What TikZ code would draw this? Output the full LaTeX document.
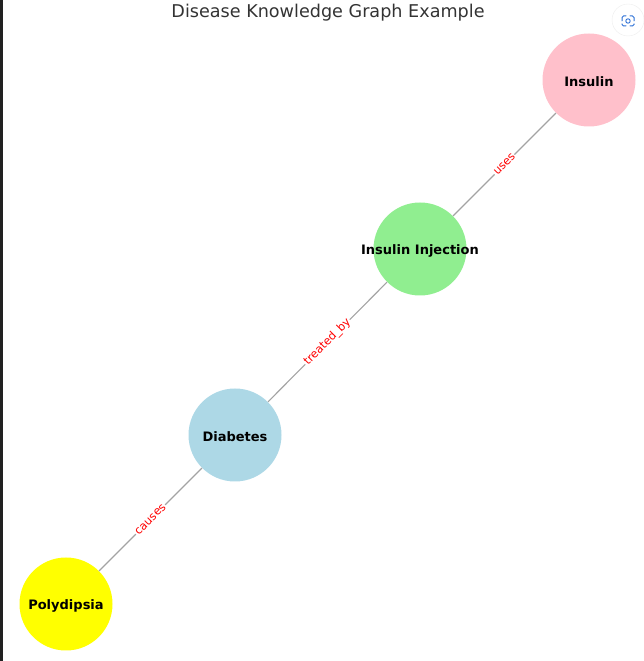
\documentclass[tikz,border=0pt]{standalone}
\usepackage{fontspec}
\setmainfont{DejaVu Sans}
\usetikzlibrary{positioning}
\definecolor{pinkish}{HTML}{FFC0CB}
\definecolor{lgreen}{HTML}{90EE90}
\definecolor{lblue}{HTML}{ADD8E6}
\definecolor{yel}{HTML}{FFFF00}
\definecolor{edgegray}{HTML}{A3A3A3}
\definecolor{iconblue}{HTML}{2B6FD6}
\tikzset{
  entity/.style={circle, minimum size=93pt, inner sep=0pt,
    label={[font=\fontsize{13}{15}\selectfont\bfseries, yshift=-1.5pt]center:#1}},
  rel/.style={draw=edgegray, line width=1.1pt},
  rellabel/.style={midway, sloped, fill=white, inner sep=1pt, text=red, font=\fontsize{11.3}{13}\selectfont}
}
\begin{document}
\begin{tikzpicture}[x=1pt,y=1pt]
\useasboundingbox (0,0) rectangle (644,661);
\fill[black!87] (0,0) rectangle (3,661);
\node (title) at (328,648) {\fontsize{17.6}{20}\selectfont\color{black!80}Disease Knowledge Graph Example};
% nodes
\node[entity=Insulin, fill=pinkish] (insulin) at (589,581) {};
\node[entity=Insulin Injection, fill=lgreen] (injection) at (420,412) {};
\node[entity=Diabetes, fill=lblue] (diabetes) at (235,226) {};
\node[entity=Polydipsia, fill=yel] (polydipsia) at (66,57) {};
% edges
\draw[rel] (injection) -- node[rellabel] {uses} (insulin);
\draw[rel] (diabetes) -- node[rellabel] {treated\_by} (injection);
\draw[rel] (polydipsia) -- node[rellabel] {causes} (diabetes);
% corner icon
\node[circle, fill=white, draw=black!7, minimum size=32pt] (lens) at (628,641) {};
\draw[iconblue, line width=1pt, line cap=round, rounded corners=1.5pt]
  (622,640) -- (622,645) -- (626,645) (630,645) -- (634,645) -- (634,640)
  (634,637) -- (634,635) -- (630,635) (626,635) -- (622,635) -- (622,637);
\draw[iconblue, line width=0.9pt] (628,640) circle (2.2pt);
\end{tikzpicture}
\end{document}
